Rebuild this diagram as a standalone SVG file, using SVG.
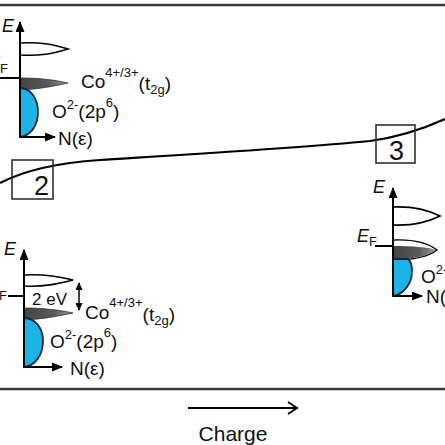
<svg xmlns="http://www.w3.org/2000/svg" width="445" height="445" viewBox="0 0 445 445">
<style>
.t{font-family:"Liberation Sans",Arial,sans-serif;fill:#111}
.lbl{font-size:19px}
.sm{font-size:13px}
.it{font-style:italic;font-size:18px}
.ax{stroke:#000;stroke-width:2;fill:none}
.wp{fill:#fff;stroke:#000;stroke-width:1.6}
.gp{fill:url(#gr);stroke:#333;stroke-width:0.8}
.bl{fill:#1bb4e6;stroke:#15243f;stroke-width:1.8}
.frame{stroke:#3a3a3a;stroke-width:2.5}
.box{fill:none;stroke:#333;stroke-width:1.6}
.num{font-size:27px}
</style>
<defs>
<marker id="ah" markerUnits="userSpaceOnUse" markerWidth="11" markerHeight="9" refX="10" refY="4.5" orient="auto-start-reverse">
<path d="M0,0 L11,4.5 L0,9 Z" fill="#000"/>
</marker>
<marker id="ahs" markerUnits="userSpaceOnUse" markerWidth="8" markerHeight="7" refX="7" refY="3.5" orient="auto-start-reverse">
<path d="M0,0 L8,3.5 L0,7 Z" fill="#000"/>
</marker>
<marker id="chev" markerUnits="userSpaceOnUse" markerWidth="12" markerHeight="14" refX="10" refY="7" orient="auto">
<path d="M1,1 L10,7 L1,13" fill="none" stroke="#000" stroke-width="2"/>
</marker>
<linearGradient id="gr" x1="0" x2="1" y1="0" y2="0">
<stop offset="0" stop-color="#444"/>
<stop offset="0.6" stop-color="#5a5a5a"/>
<stop offset="1" stop-color="#9a9a9a"/>
</linearGradient>
</defs>
<rect width="445" height="445" fill="#fff"/>
<line class="frame" x1="0" y1="5" x2="445" y2="5"/>
<line class="frame" x1="0" y1="389" x2="445" y2="389"/>

<g id="curve">
<path d="M0,183 C25,170 55,163 100,160 C180,155 300,148 370,141 C400,137 425,128 445,119" fill="none" stroke="#000" stroke-width="2.2"/>
</g>

<g id="box2">
<rect class="box" x="12" y="160" width="41" height="39"/>
<text class="t num" x="41.5" y="195" text-anchor="middle">2</text>
</g>
<g id="box3">
<rect class="box" x="376" y="125" width="39" height="38"/>
<text class="t num" x="396.5" y="160" text-anchor="middle">3</text>
</g>

<g id="panel1">
<path class="wp" d="M20,43 C40,42 52,44 68,49 C52,54 40,56 20,55 Z"/>
<path class="gp" d="M20,78 C40,78 55,80 68,83 C55,86 40,89 20,90 Z"/>
<path class="bl" d="M20,88 C30,88 38,98 38,112 C38,126 30,136 20,137 Z"/>
<line class="ax" x1="20" y1="137" x2="20" y2="22" marker-end="url(#ah)"/>
<line class="ax" x1="20" y1="137" x2="55" y2="137" marker-end="url(#ah)"/>
<line class="ax" x1="0" y1="78" x2="20" y2="78"/>
<text class="t it" x="2" y="32">E</text>
<text class="t it" x="-12" y="69">E<tspan class="sm" y="73" style="font-style:normal">F</tspan></text>
<text class="t lbl" x="81" y="88">Co<tspan class="sm" y="77">4+/3+</tspan><tspan y="90">(t</tspan><tspan class="sm" y="94">2g</tspan><tspan y="90">)</tspan></text>
<text class="t lbl" x="52" y="118">O<tspan class="sm" y="109">2-</tspan><tspan y="118">(2p</tspan><tspan class="sm" y="107">6</tspan><tspan y="118">)</tspan></text>
<text class="t lbl" x="58" y="145">N(ε)</text>
</g>

<g id="panel2">
<path class="wp" d="M24,275 C44,274 57,276 73,280 C57,284 44,287 24,286 Z"/>
<path class="gp" d="M24,308 C44,308 59,310 73,313 C59,316 44,319 24,320 Z"/>
<path class="bl" d="M24,318 C35,318 43,328 43,341 C43,355 35,366 24,367 Z"/>
<line class="ax" x1="24" y1="367" x2="24" y2="250" marker-end="url(#ah)"/>
<line class="ax" x1="24" y1="367" x2="62" y2="367" marker-end="url(#ah)"/>
<line class="ax" x1="8" y1="296" x2="24" y2="296"/>
<line x1="79" y1="283" x2="79" y2="310" stroke="#000" stroke-width="1.5" marker-start="url(#ahs)" marker-end="url(#ahs)"/>
<text class="t it" x="4" y="255">E</text>
<text class="t sm" x="-1" y="300">F</text>
<text class="t" x="32" y="305" style="font-size:17px">2 eV</text>
<text class="t lbl" x="85" y="319">Co<tspan class="sm" y="307">4+/3+</tspan><tspan y="321">(t</tspan><tspan class="sm" y="325">2g</tspan><tspan y="321">)</tspan></text>
<text class="t lbl" x="50" y="348">O<tspan class="sm" y="339">2-</tspan><tspan y="348">(2p</tspan><tspan class="sm" y="337">6</tspan><tspan y="348">)</tspan></text>
<text class="t lbl" x="70" y="375">N(ε)</text>
</g>

<g id="panel3">
<path class="wp" d="M393,207 C415,206 428,210 440,216 C428,222 415,226 393,225 Z"/>
<path d="M393,240 C415,239 428,243 437,250 C428,257 415,260 393,260 Z" fill="#fff" stroke="#000" stroke-width="1.4"/>
<path d="M393,246 C413,246 428,247 436,250 C428,256 415,259 393,259 Z" fill="url(#gr)"/>
<path class="bl" d="M393,259 L408,259 C413,263 413,275 410,282 C406,290 400,295 393,296 Z"/>
<line class="ax" x1="393" y1="296" x2="393" y2="188" marker-end="url(#ah)"/>
<line class="ax" x1="393" y1="296" x2="422" y2="296" marker-end="url(#ah)"/>
<line class="ax" x1="375" y1="246" x2="393" y2="246"/>
<text class="t it" x="373" y="193">E</text>
<text class="t it" x="357" y="242">E<tspan class="sm" y="246" style="font-style:normal">F</tspan></text>
<text class="t lbl" x="421" y="283">O<tspan class="sm" y="274">2-</tspan></text>
<text class="t lbl" x="426" y="303">N(ε)</text>
</g>

<g id="charge">
<line x1="188" y1="408" x2="297" y2="408" stroke="#000" stroke-width="2" marker-end="url(#chev)"/>
<text class="t" x="233" y="441" text-anchor="middle" style="font-size:21px">Charge</text>
</g>
</svg>
